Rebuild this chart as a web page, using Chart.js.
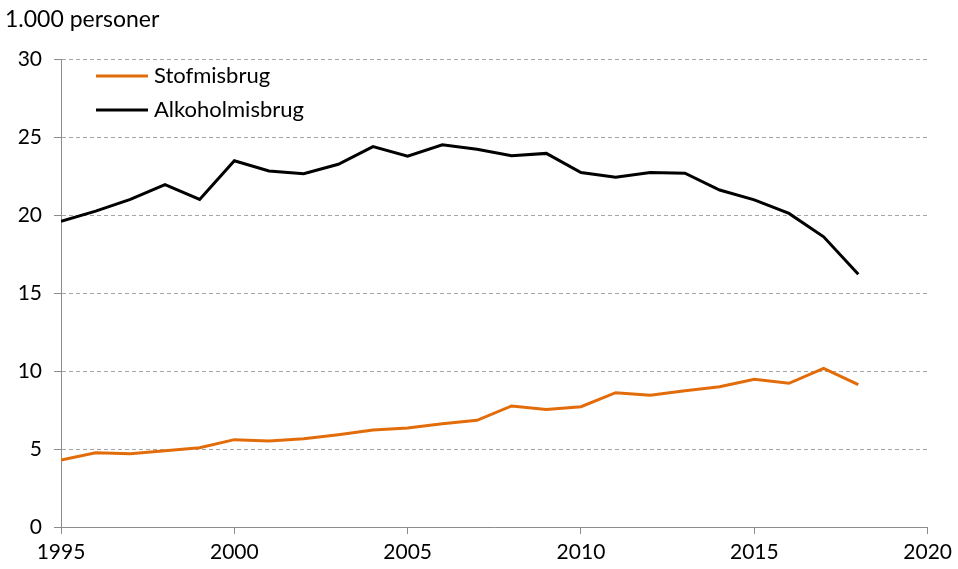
<!DOCTYPE html>
<html>
<head>
<meta charset="utf-8">
<script src="https://cdn.jsdelivr.net/npm/chart.js@4"></script>
<style>
  html, body { margin: 0; padding: 0; background: #fff; }
  #wrap { width: 958px; height: 569px; position: relative; }
</style>
</head>
<body>
<div id="wrap"><canvas id="myChart" width="958" height="569"></canvas></div>
<script>
// Data (1.000 personer)
var years = [1995, 1996, 1997, 1998, 1999, 2000, 2001, 2002, 2003, 2004, 2005, 2006,
  2007, 2008, 2009, 2010, 2011, 2012, 2013, 2014, 2015, 2016, 2017, 2018];
var stofmisbrug = [4.3, 4.76, 4.7, 4.89, 5.08, 5.6, 5.51, 5.66, 5.92, 6.22, 6.35, 6.62,
  6.84, 7.76, 7.54, 7.71, 8.61, 8.44, 8.74, 8.99, 9.47, 9.21, 10.17, 9.12];
var alkoholmisbrug = [19.6, 20.25, 21.0, 21.95, 21.0, 23.48, 22.82, 22.65, 23.25, 24.38, 23.77, 24.5,
  24.22, 23.8, 23.95, 22.72, 22.42, 22.72, 22.68, 21.6, 20.97, 20.1, 18.6, 16.2];
var seriesLabels = ["Stofmisbrug", "Alkoholmisbrug"];
var seriesColors = ["#E36C0A", "#000000"];
var unitLabel = "1.000 personer";

var fontFamily = "Lato, 'Open Sans', sans-serif";
var axisGray = "#8c8c8c";

function toPoints(values) {
  return values.map(function (v, i) { return { x: years[i], y: v }; });
}

// Tegner enhedstekst og forklaring inde i plotområdet
var extras = {
  id: "extras",
  afterDraw: function (chart) {
    var ctx = chart.ctx;
    ctx.save();
    ctx.fillStyle = "#000";
    ctx.font = "23px " + fontFamily;
    ctx.textBaseline = "middle";
    ctx.textAlign = "left";
    ctx.fillText(unitLabel, 5, 20);

    ctx.font = "22px " + fontFamily;
    chart.data.datasets.forEach(function (ds, i) {
      var y = 76 + i * 34;
      ctx.strokeStyle = ds.borderColor;
      ctx.lineWidth = 3;
      ctx.beginPath();
      ctx.moveTo(96, y);
      ctx.lineTo(148, y);
      ctx.stroke();
      ctx.fillText(ds.label, 154, y);
    });
    ctx.restore();
  }
};

var ctx = document.getElementById("myChart").getContext("2d");

var myChart = new Chart(ctx, {
  type: "line",
  data: {
    datasets: [
      {
        label: seriesLabels[0],
        data: toPoints(stofmisbrug),
        borderColor: seriesColors[0],
        borderWidth: 3,
        pointRadius: 0,
        tension: 0,
      },
      {
        label: seriesLabels[1],
        data: toPoints(alkoholmisbrug),
        borderColor: seriesColors[1],
        borderWidth: 3,
        pointRadius: 0,
        tension: 0,
      },
    ],
  },
  options: {
    responsive: false,
    animation: false,
    layout: { padding: { left: 0, right: 30, top: 59, bottom: 0 } },
    plugins: {
      legend: { display: false },
      tooltip: { enabled: false },
    },
    scales: {
      x: {
        type: "linear",
        min: 1995,
        max: 2020,
        ticks: {
          stepSize: 5,
          color: "#000",
          font: { family: fontFamily, size: 21 },
          padding: 6,
          callback: function (v) { return String(v); },
        },
        grid: {
          drawOnChartArea: false,
          color: axisGray,
          tickLength: 7,
        },
        border: { color: axisGray, width: 1 },
        afterFit: function (scale) { scale.height = 42; },
      },
      y: {
        min: 0,
        max: 30,
        ticks: {
          stepSize: 5,
          color: "#000",
          font: { family: fontFamily, size: 21 },
          padding: 12,
        },
        grid: {
          color: "#a6a6a6",
          tickColor: axisGray,
          tickLength: 7,
        },
        border: { color: axisGray, width: 1, dash: [4, 3] },
        afterFit: function (scale) { scale.width = 61; },
      },
    },
  },
  plugins: [extras],
});
</script>
</body>
</html>
